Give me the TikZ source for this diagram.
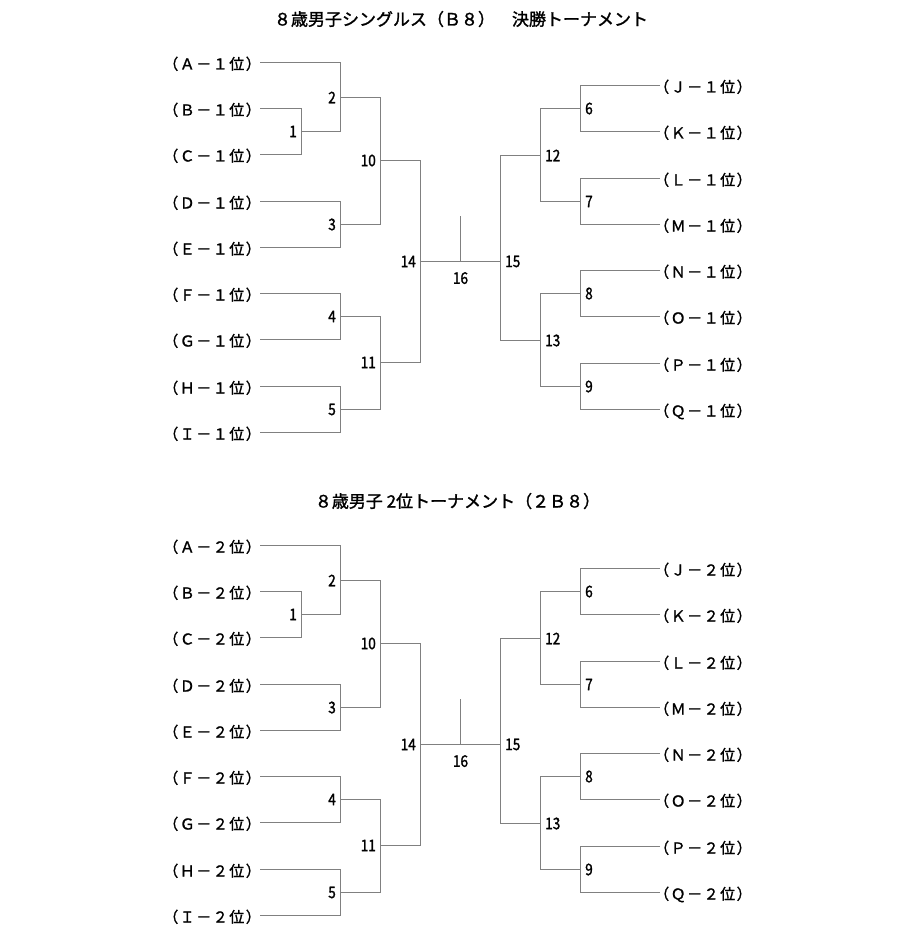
\documentclass[tikz,border=0pt]{standalone}
\usepackage{fontspec}
\setmainfont[FakeBold=1.5]{Noto Sans CJK JP}
\newfontfamily\numfont[FakeStretch=0.85, FakeBold=1.5]{Noto Sans CJK JP}
\newfontfamily\teamfont[LetterSpace=10, FakeBold=1.5]{Noto Sans CJK JP}
\tikzset{
    bline/.style={draw=black!50, line width=1pt},
    team/.style={inner sep=0pt, font=\teamfont\fontsize{15}{15}\selectfont},
    num/.style={inner sep=0pt, font=\numfont\fontsize{16}{16}\selectfont},
    ttl/.style={inner sep=0pt, anchor=base, font=\fontsize{17}{17}\selectfont}
}
% one bracket: #1 name prefix, #2 rank
\newcommand{\drawbracket}[2]{%
	\coordinate (#1A) at (260, 62.5);
	\coordinate (#1B) at (260, 108.5);
	\coordinate (#1C) at (260, 154.5);
	\coordinate (#1D) at (260, 201.5);
	\coordinate (#1E) at (260, 247.5);
	\coordinate (#1F) at (260, 293.5);
	\coordinate (#1G) at (260, 339.5);
	\coordinate (#1H) at (260, 386.5);
	\coordinate (#1I) at (260, 432.5);
	\coordinate (#1J) at (660, 85.5);
	\coordinate (#1K) at (660, 131.5);
	\coordinate (#1L) at (660, 178.5);
	\coordinate (#1M) at (660, 224.5);
	\coordinate (#1N) at (660, 270.5);
	\coordinate (#1O) at (660, 316.5);
	\coordinate (#1P) at (660, 363.5);
	\coordinate (#1Q) at (660, 409.5);
	\node[team, anchor=base east] (#1At) at ([shift={(1pt,-7pt)}]#1A) {（Ａ－#2位）};
	\node[team, anchor=base east] (#1Bt) at ([shift={(1pt,-7pt)}]#1B) {（Ｂ－#2位）};
	\node[team, anchor=base east] (#1Ct) at ([shift={(1pt,-7pt)}]#1C) {（Ｃ－#2位）};
	\node[team, anchor=base east] (#1Dt) at ([shift={(1pt,-7pt)}]#1D) {（Ｄ－#2位）};
	\node[team, anchor=base east] (#1Et) at ([shift={(1pt,-7pt)}]#1E) {（Ｅ－#2位）};
	\node[team, anchor=base east] (#1Ft) at ([shift={(1pt,-7pt)}]#1F) {（Ｆ－#2位）};
	\node[team, anchor=base east] (#1Gt) at ([shift={(1pt,-7pt)}]#1G) {（Ｇ－#2位）};
	\node[team, anchor=base east] (#1Ht) at ([shift={(1pt,-7pt)}]#1H) {（Ｈ－#2位）};
	\node[team, anchor=base east] (#1It) at ([shift={(1pt,-7pt)}]#1I) {（Ｉ－#2位）};
	\node[team, anchor=base west] (#1Jt) at ([shift={(-6pt,-7pt)}]#1J) {（Ｊ－#2位）};
	\node[team, anchor=base west] (#1Kt) at ([shift={(-6pt,-7pt)}]#1K) {（Ｋ－#2位）};
	\node[team, anchor=base west] (#1Lt) at ([shift={(-6pt,-7pt)}]#1L) {（Ｌ－#2位）};
	\node[team, anchor=base west] (#1Mt) at ([shift={(-6pt,-7pt)}]#1M) {（Ｍ－#2位）};
	\node[team, anchor=base west] (#1Nt) at ([shift={(-6pt,-7pt)}]#1N) {（Ｎ－#2位）};
	\node[team, anchor=base west] (#1Ot) at ([shift={(-6pt,-7pt)}]#1O) {（Ｏ－#2位）};
	\node[team, anchor=base west] (#1Pt) at ([shift={(-6pt,-7pt)}]#1P) {（Ｐ－#2位）};
	\node[team, anchor=base west] (#1Qt) at ([shift={(-6pt,-7pt)}]#1Q) {（Ｑ－#2位）};
	% match points
	\coordinate[label={[num]left:1}] (#1m1) at (301.5, 131.5);
	\coordinate[label={[num]left:2}] (#1m2) at (340.5, 97.5);
	\coordinate[label={[num]left:3}] (#1m3) at (340.5, 224.5);
	\coordinate[label={[num]left:4}] (#1m4) at (340.5, 316.5);
	\coordinate[label={[num]left:5}] (#1m5) at (340.5, 409.5);
	\coordinate[label={[num]right:6}] (#1m6) at (580.5, 108.5);
	\coordinate[label={[num]right:7}] (#1m7) at (580.5, 201.5);
	\coordinate[label={[num]right:8}] (#1m8) at (580.5, 293.5);
	\coordinate[label={[num]right:9}] (#1m9) at (580.5, 386.5);
	\coordinate[label={[num]left:10}] (#1m10) at (380.5, 160.5);
	\coordinate[label={[num]left:11}] (#1m11) at (380.5, 362.5);
	\coordinate[label={[num]right:12}] (#1m12) at (540.5, 155.5);
	\coordinate[label={[num]right:13}] (#1m13) at (540.5, 340.5);
	\coordinate[label={[num]left:14}] (#1m14) at (420.5, 261.5);
	\coordinate[label={[num]right:15}] (#1m15) at (500.5, 261.5);
	\coordinate[label={[num, yshift=-6pt]below:16}] (#1m16) at (460.5, 261.5);
	\coordinate (#1t16) at (460.5, 216);
	% left half
	\draw[bline] (#1B) -| (#1m1) |- (#1C);
	\draw[bline] (#1A) -| (#1m2) |- (#1m1);
	\draw[bline] (#1D) -| (#1m3) |- (#1E);
	\draw[bline] (#1F) -| (#1m4) |- (#1G);
	\draw[bline] (#1H) -| (#1m5) |- (#1I);
	\draw[bline] (#1m2) -| (#1m10) |- (#1m3);
	\draw[bline] (#1m4) -| (#1m11) |- (#1m5);
	\draw[bline] (#1m10) -| (#1m14) |- (#1m11);
	% final
	\draw[bline] (#1m14) -- (#1m15);
	\draw[bline] (#1m16) -- (#1t16);
	% right half
	\draw[bline] (#1m12) -| (#1m15) |- (#1m13);
	\draw[bline] (#1m6) -| (#1m12) |- (#1m7);
	\draw[bline] (#1m8) -| (#1m13) |- (#1m9);
	\draw[bline] (#1J) -| (#1m6) |- (#1K);
	\draw[bline] (#1L) -| (#1m7) |- (#1M);
	\draw[bline] (#1N) -| (#1m8) |- (#1O);
	\draw[bline] (#1P) -| (#1m9) |- (#1Q);
}

\begin{document}
\begin{tikzpicture}[x=1pt, y=-1pt, label distance=4.5pt]
	\useasboundingbox (0,0) rectangle (920,944);
	\node[ttl] (title1) at (461, 25.5) {８歳男子シングルス（Ｂ８）　決勝トーナメント};
	\node[ttl] (title2) at (457.5, 507.5) {８歳男子 2位トーナメント（２Ｂ８）};
	\drawbracket{t}{１}
	\begin{scope}[shift={(0,483)}]
		\drawbracket{b}{２}
	\end{scope}
\end{tikzpicture}
\end{document}
